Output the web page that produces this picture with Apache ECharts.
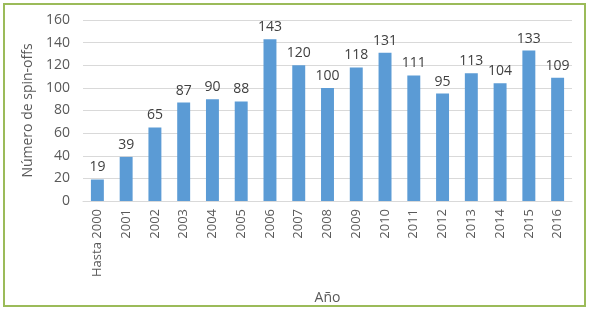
<!DOCTYPE html>
<html><head><meta charset="utf-8">
<script src="https://cdn.jsdelivr.net/npm/echarts@6/dist/echarts.min.js"></script>
<style>html,body{margin:0;padding:0;background:#fff}#c{width:590px;height:311px}
#frame{position:absolute;left:3px;top:3px;width:583px;height:304px;border:2px solid #9BBB59;box-sizing:border-box;pointer-events:none}</style>
</head><body><div id="c"></div><div id="frame"></div>
<script>
const categories = ["Hasta 2000","2001","2002","2003","2004","2005","2006","2007","2008","2009","2010","2011","2012","2013","2014","2015","2016"];
const values = [19,39,65,87,90,88,143,120,100,118,131,111,95,113,104,133,109];
const yTicks = {min:0, max:160, interval:20};
const chart = echarts.init(document.getElementById('c'));
const txt = '#595959';
chart.setOption({
  animation:false,
  textStyle:{fontFamily:'Open Sans'},
  grid:{left:83, right:18, top:20, bottom:110},
  xAxis:{type:'category', data:categories, name:'Año', nameLocation:'middle', nameGap:90,
    nameTextStyle:{color:txt, fontSize:14},
    axisLine:{lineStyle:{color:'#D9D9D9'}}, axisTick:{show:false},
    axisLabel:{rotate:90, color:txt, fontSize:13, interval:0, margin:8}},
  yAxis:{type:'value', min:yTicks.min, max:yTicks.max, interval:yTicks.interval,
    name:'Número de spin-offs', nameLocation:'middle', nameGap:45,
    nameTextStyle:{color:txt, fontSize:14},
    axisLabel:{color:txt, fontSize:14, margin:13},
    splitLine:{lineStyle:{color:'#D9D9D9'}}},
  series:[{type:'bar', data:values, barWidth:'45%', itemStyle:{color:'#5B9BD5'},
    label:{show:true, position:'top', color:'#404040', fontSize:14, distance:5}}]
});
</script></body></html>
